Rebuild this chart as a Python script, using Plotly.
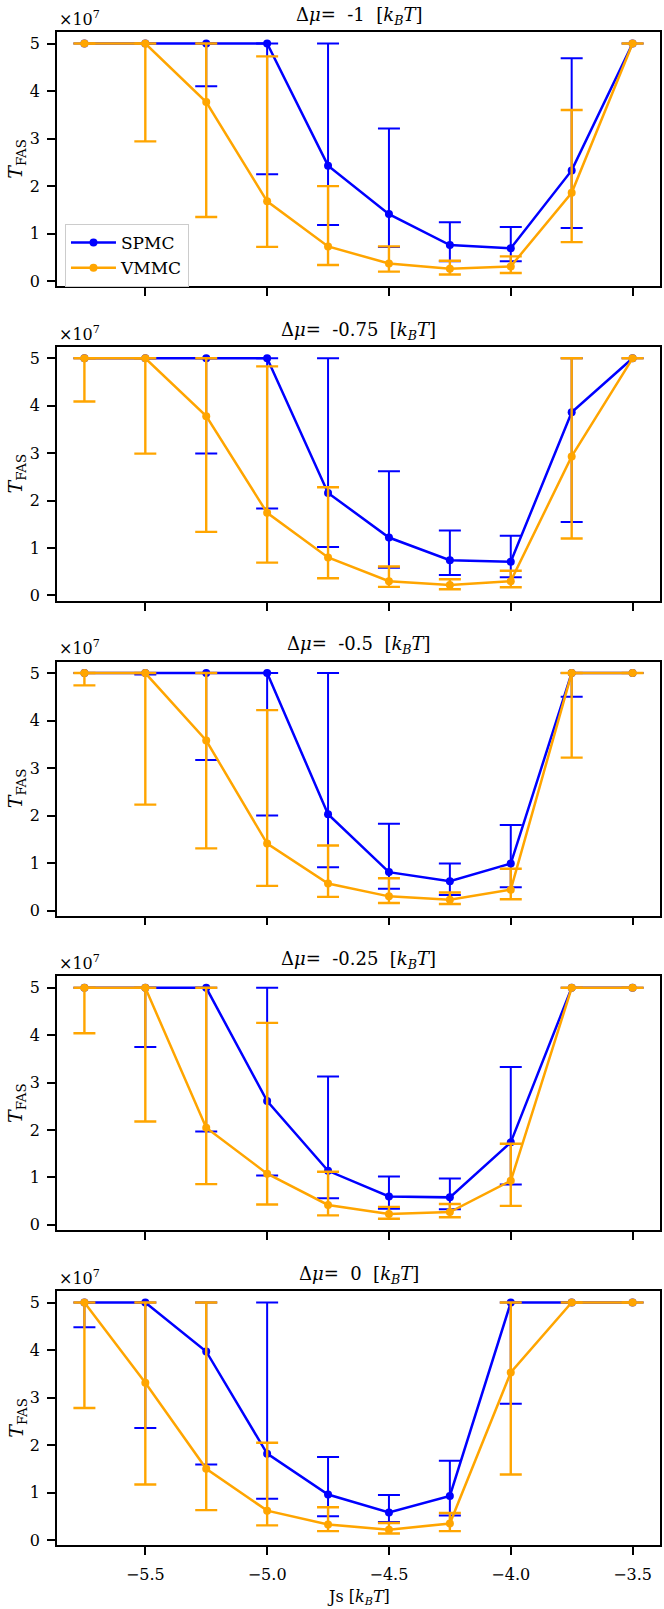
import plotly.graph_objects as go

# ---------------- data (T_FAS in units of 1e7) ----------------
js = [-5.75, -5.5, -5.25, -5.0, -4.75, -4.5, -4.25, -4.0, -3.75, -3.5]
dmu_labels = ["-1", "-0.75", "-0.5", "-0.25", "0"]

spmc_mean = [
    [5, 5, 5, 5, 2.43, 1.41, 0.76, 0.69, 2.33, 5],
    [5, 5, 5, 5, 2.16, 1.22, 0.74, 0.71, 3.86, 5],
    [5, 5, 5, 5, 2.03, 0.81, 0.62, 0.99, 5, 5],
    [5, 5, 5, 2.61, 1.14, 0.60, 0.58, 1.74, 5, 5],
    [5, 5, 3.97, 1.82, 0.96, 0.58, 0.93, 5, 5, 5],
]
spmc_low = [
    [5, 5, 4.10, 2.25, 1.18, 0.72, 0.42, 0.42, 1.12, 5],
    [5, 5, 2.99, 1.83, 1.02, 0.58, 0.43, 0.38, 1.55, 5],
    [5, 4.97, 3.17, 2.00, 0.91, 0.46, 0.33, 0.49, 4.50, 5],
    [5, 3.75, 1.97, 1.04, 0.56, 0.34, 0.33, 0.85, 5, 5],
    [4.48, 2.36, 1.59, 0.87, 0.50, 0.38, 0.52, 2.87, 5, 5],
]
spmc_high = [
    [5, 5, 5, 5, 5, 3.21, 1.24, 1.14, 4.69, 5],
    [5, 5, 5, 5, 5, 2.62, 1.37, 1.26, 5, 5],
    [5, 5, 5, 5, 5, 1.83, 0.99, 1.80, 5, 5],
    [5, 5, 5, 5, 3.13, 1.02, 0.98, 3.33, 5, 5],
    [5, 5, 5, 5, 1.75, 0.95, 1.67, 5, 5, 5],
]
vmmc_mean = [
    [5, 5, 3.77, 1.68, 0.73, 0.37, 0.26, 0.31, 1.86, 5],
    [5, 5, 3.78, 1.74, 0.80, 0.30, 0.22, 0.30, 2.93, 5],
    [5, 5, 3.58, 1.41, 0.57, 0.30, 0.23, 0.44, 5, 5],
    [5, 5, 2.05, 1.08, 0.42, 0.23, 0.27, 0.93, 5, 5],
    [5, 3.31, 1.50, 0.62, 0.33, 0.22, 0.35, 3.53, 5, 5],
]
vmmc_low = [
    [5, 2.94, 1.35, 0.72, 0.34, 0.20, 0.14, 0.17, 0.82, 5],
    [4.09, 2.99, 1.34, 0.69, 0.36, 0.18, 0.13, 0.17, 1.20, 5],
    [4.74, 2.23, 1.31, 0.52, 0.29, 0.16, 0.14, 0.24, 3.22, 5],
    [4.04, 2.18, 0.86, 0.43, 0.20, 0.13, 0.16, 0.40, 5, 5],
    [2.78, 1.17, 0.63, 0.31, 0.19, 0.14, 0.19, 1.38, 5, 5],
]
vmmc_high = [
    [5, 5, 5, 4.73, 2.00, 0.73, 0.43, 0.52, 3.60, 5],
    [5, 5, 5, 4.83, 2.28, 0.61, 0.34, 0.52, 5, 5],
    [5, 5, 5, 4.22, 1.37, 0.68, 0.38, 0.88, 5, 5],
    [5, 5, 5, 4.26, 1.12, 0.38, 0.44, 1.71, 5, 5],
    [5, 5, 5, 2.05, 0.69, 0.36, 0.57, 5, 5, 5],
]
x_ticks = [-5.5, -5.0, -4.5, -4.0, -3.5]
y_ticks = [0, 1, 2, 3, 4, 5]

# ---------------- layout geometry ----------------
W, H = 664, 1609
ML, MR, MT, MB = 57, 2, 32, 64
plot_h = H - MT - MB
panel_h = 254
panel_step = 314.75

FONT = "DejaVu Serif, Liberation Serif, serif"
BLUE = "#0000ff"
ORANGE = "#ffa500"

fig = go.Figure()
annotations = []
layout_axes = {}

for i in range(5):
    top_px = MT + i * panel_step
    bot_px = top_px + panel_h
    d0 = (H - MB - bot_px) / plot_h
    d1 = (H - MB - top_px) / plot_h
    xa = "x" if i == 0 else f"x{i+1}"
    ya = "y" if i == 0 else f"y{i+1}"
    xkey = "xaxis" if i == 0 else f"xaxis{i+1}"
    ykey = "yaxis" if i == 0 else f"yaxis{i+1}"

    for name, mean, lo, hi, col, thick in [
        ("SPMC", spmc_mean[i], spmc_low[i], spmc_high[i], BLUE, 2.0),
        ("VMMC", vmmc_mean[i], vmmc_low[i], vmmc_high[i], ORANGE, 2.4),
    ]:
        fig.add_trace(go.Scatter(
            x=js, y=mean, mode="lines+markers", name=name,
            showlegend=(i == 0), legendgroup=name,
            line=dict(color=col, width=2.5),
            marker=dict(color=col, size=8),
            error_y=dict(type="data", symmetric=False,
                         array=[h - m for h, m in zip(hi, mean)],
                         arrayminus=[m - l for m, l in zip(mean, lo)],
                         color=col, thickness=thick, width=11),
            xaxis=xa, yaxis=ya,
        ))

    lo_all = min(min(spmc_low[i]), min(vmmc_low[i]))
    hi_all = max(max(spmc_high[i]), max(vmmc_high[i]))
    pad = 0.05 * (hi_all - lo_all)
    xmin, xmax = min(js), max(js)
    xpad = 0.05 * (xmax - xmin)

    layout_axes[xkey] = dict(
        domain=[0, 1], anchor=ya, range=[xmin - xpad, xmax + xpad],
        tickvals=x_ticks, tickformat=".1f", showticklabels=(i == 4),
        ticks="outside", ticklen=8, tickwidth=1.8, tickcolor="black",
        ticklabelstandoff=6,
        showline=True, linecolor="black", linewidth=1.8, mirror=True,
        showgrid=False, zeroline=False,
        tickfont=dict(family=FONT, size=16, color="black"),
        matches=None if i == 0 else "x",
    )
    layout_axes[ykey] = dict(
        domain=[d0, d1], anchor=xa, range=[lo_all - pad, hi_all + pad],
        tickvals=y_ticks, ticks="outside", ticklen=8, tickwidth=1.8,
        ticklabelstandoff=4,
        tickcolor="black", showline=True, linecolor="black", linewidth=1.8,
        mirror=True, showgrid=False, zeroline=False,
        tickfont=dict(family=FONT, size=16, color="black"),
    )

    # panel title
    annotations.append(dict(
        text=f"Δ<i>μ</i>=  {dmu_labels[i]}  [<i>k</i><sub><i>B</i></sub><i>T</i>]",
        xref="paper", yref="paper", x=0.5, y=d1, xanchor="center",
        yanchor="bottom", yshift=2, showarrow=False,
        font=dict(family=FONT, size=18, color="black")))
    # offset text
    annotations.append(dict(
        text="×10<sup>7</sup>", xref="paper", yref="paper", x=0, y=d1,
        xanchor="left", yanchor="bottom", yshift=1, showarrow=False,
        font=dict(family=FONT, size=16, color="black")))
    # y label
    annotations.append(dict(
        text="<i>T</i><sub>FAS</sub>", xref="paper", yref="paper",
        x=-(ML - 2) / (W - ML - MR), y=(d0 + d1) / 2, xanchor="left",
        yanchor="middle", textangle=-90, showarrow=False,
        font=dict(family=FONT, size=19, color="black")))

annotations.append(dict(
    text="Js [<i>k</i><sub><i>B</i></sub><i>T</i>]", xref="paper", yref="paper",
    x=0.5, y=0, xanchor="center", yanchor="top", yshift=-40, showarrow=False,
    font=dict(family=FONT, size=16, color="black")))

fig.update_layout(
    width=W, height=H,
    margin=dict(l=ML, r=MR, t=MT, b=MB),
    paper_bgcolor="white", plot_bgcolor="white",
    annotations=annotations,
    legend=dict(x=8 / (W - ML - MR), y=(H - MB - 224) / plot_h, xanchor="left", yanchor="top",
                bgcolor="rgba(255,255,255,0.8)", bordercolor="#cccccc", borderwidth=1,
                font=dict(family=FONT, size=17, color="black"), itemwidth=45,
                tracegroupgap=0),
    showlegend=True,
    **layout_axes,
)

fig.write_html("out.html")
